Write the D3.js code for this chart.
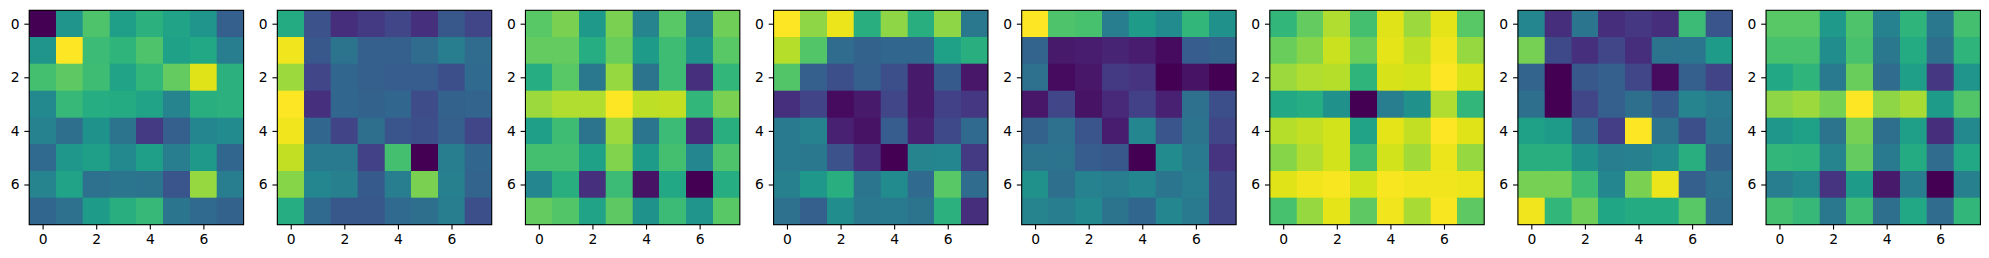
<!DOCTYPE html>
<html><head><meta charset="utf-8">
<script src="https://cdn.jsdelivr.net/npm/d3@7"></script>
<style>html,body{margin:0;padding:0;background:#fff;overflow:hidden}svg{display:block}
text{font-family:"DejaVu Sans",sans-serif;font-size:13.89px;fill:#000}</style></head><body>
<svg id="c" width="1989" height="258"></svg>
<script>
const tickValues=[0,2,4,6];
const panel1=[[0,.52,.72,.56,.64,.58,.52,.30],[.52,1,.68,.65,.72,.57,.60,.42],[.70,.75,.69,.58,.66,.76,.95,.64],[.47,.67,.62,.61,.58,.45,.63,.64],[.44,.36,.51,.38,.17,.30,.46,.48],[.34,.53,.56,.47,.56,.42,.54,.33],[.45,.58,.37,.39,.38,.26,.84,.42],[.33,.37,.55,.63,.67,.39,.34,.31]];
const panel2=[[.61,.25,.13,.17,.21,.14,.27,.21],[.98,.27,.38,.30,.30,.35,.42,.35],[.85,.21,.33,.30,.29,.29,.24,.34],[1,.14,.33,.31,.33,.23,.31,.32],[.98,.33,.20,.36,.26,.24,.30,.21],[.91,.41,.41,.19,.70,0,.42,.33],[.82,.46,.43,.28,.42,.80,.43,.32],[.62,.34,.27,.27,.34,.36,.42,.24]];
const panel3=[[.74,.80,.54,.80,.45,.74,.44,.78],[.76,.76,.62,.77,.55,.69,.51,.74],[.62,.74,.40,.84,.38,.69,.14,.66],[.85,.88,.88,1,.90,.91,.66,.80],[.56,.69,.38,.85,.39,.68,.12,.63],[.70,.70,.57,.81,.55,.70,.46,.72],[.46,.63,.14,.68,.05,.60,0,.62],[.76,.73,.58,.75,.51,.68,.52,.74]];
const panel4=[[1,.83,.97,.63,.83,.63,.83,.40],[.89,.73,.35,.31,.33,.33,.57,.63],[.73,.30,.24,.30,.24,.07,.28,.06],[.14,.20,.03,.07,.21,.07,.19,.16],[.41,.44,.09,.05,.29,.09,.22,.34],[.41,.40,.25,.13,0,.45,.46,.17],[.43,.53,.63,.39,.48,.34,.74,.35],[.37,.30,.49,.40,.41,.38,.64,.13]];
const panel5=[[1,.72,.71,.42,.55,.48,.66,.50],[.32,.07,.08,.10,.08,.03,.29,.31],[.37,.03,.06,.17,.15,0,.05,0],[.06,.21,.05,.11,.19,.09,.37,.24],[.31,.37,.26,.08,.46,.26,.38,.21],[.38,.38,.29,.27,0,.48,.41,.15],[.50,.36,.44,.42,.46,.39,.42,.20],[.45,.42,.47,.38,.33,.46,.41,.20]];
const panel6=[[.66,.76,.88,.70,.95,.85,.96,.74],[.77,.82,.92,.77,.96,.90,.98,.84],[.85,.88,.89,.65,.94,.93,1,.94],[.60,.62,.50,0,.42,.50,.88,.66],[.89,.91,.93,.58,.96,.91,1,.95],[.82,.88,.93,.69,.93,.86,.97,.84],[.95,.98,.99,.93,.99,.98,.98,.97],[.71,.84,.96,.75,.98,.87,.99,.75]];
const panel7=[[.46,.13,.39,.13,.16,.13,.68,.26],[.79,.22,.14,.21,.13,.38,.39,.55],[.32,0,.27,.30,.21,.03,.30,.20],[.36,0,.21,.30,.36,.28,.45,.41],[.57,.55,.34,.18,1,.38,.24,.39],[.63,.63,.50,.42,.43,.48,.63,.31],[.79,.79,.69,.46,.80,.97,.30,.37],[.98,.66,.78,.59,.61,.61,.74,.35]];
const panel8=[[.74,.74,.54,.72,.44,.65,.40,.70],[.71,.71,.49,.71,.40,.61,.36,.65],[.60,.65,.41,.77,.35,.56,.16,.52],[.83,.85,.79,1,.83,.87,.55,.73],[.53,.57,.38,.79,.36,.56,.13,.47],[.66,.65,.45,.76,.41,.61,.35,.60],[.42,.47,.15,.55,.07,.42,0,.43],[.70,.67,.40,.69,.36,.60,.35,.66]];
const panels=[panel1,panel2,panel3,panel4,panel5,panel6,panel7,panel8];

const left=29.2, top0=10.3, size=214.4, step=248.12;
const color=d3.scaleSequential(d3.interpolateViridis).domain([0,1]);
const svg=d3.select("#c");
panels.forEach((m,p)=>{
  const g=svg.append("g").attr("transform",`translate(${left+p*step},${top0})`);
  const x=d3.scaleLinear().domain([-0.5,7.5]).range([0,size]);
  const y=d3.scaleLinear().domain([-0.5,7.5]).range([0,size]);
  g.selectAll("g.row").data(m).join("g").attr("class","row").each(function(row,r){
    d3.select(this).selectAll("rect").data(row).join("rect")
      .attr("x",(d,c)=>x(c-0.5)).attr("y",y(r-0.5))
      .attr("width",x(1)-x(0)).attr("height",y(1)-y(0))
      .attr("fill",d=>color(d)).attr("stroke",d=>color(d)).attr("stroke-width",0.3)
      .attr("shape-rendering","crispEdges");
  });
  const ax=g.append("g").attr("transform",`translate(0,${size})`)
    .call(d3.axisBottom(x).tickValues(tickValues).tickFormat(d3.format("d")).tickSize(4.86).tickPadding(4.86));
  const ay=g.append("g")
    .call(d3.axisLeft(y).tickValues(tickValues).tickFormat(d3.format("d")).tickSize(4.86).tickPadding(4.86));
  [ax,ay].forEach(a=>{
    a.select(".domain").remove();
    a.selectAll("line").attr("stroke","#000").attr("stroke-width",1.11);
    a.selectAll("text").attr("fill","#000").style("font-family",'"DejaVu Sans",sans-serif').style("font-size","13.89px");
  });
  g.append("rect").attr("width",size).attr("height",size).attr("fill","none").attr("stroke","#000").attr("stroke-width",1.11);
});
</script></body></html>
